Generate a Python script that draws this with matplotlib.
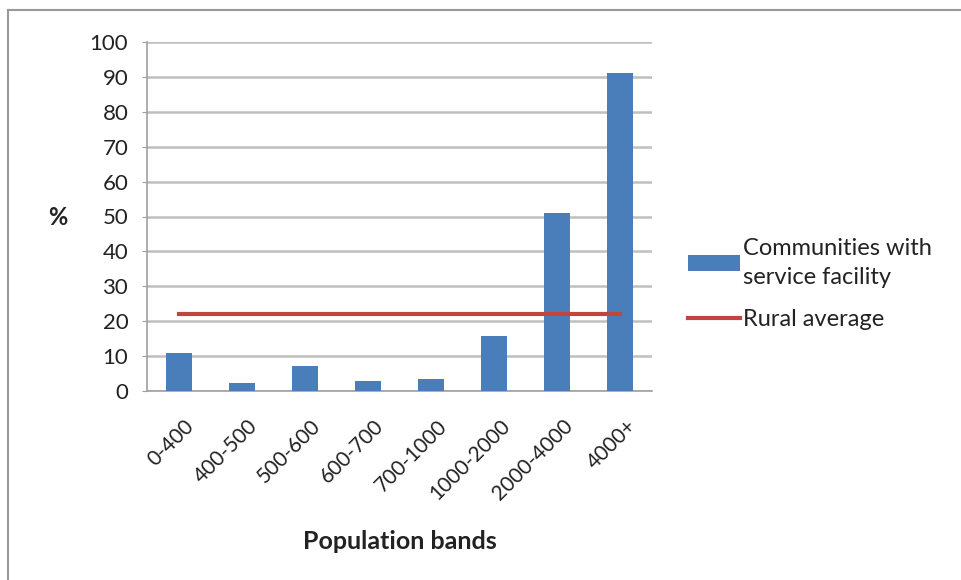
import matplotlib
matplotlib.use("Agg")
from matplotlib import pyplot as plt
from matplotlib.lines import Line2D
from matplotlib.transforms import ScaledTranslation

# データ
bands = ["0-400", "400-500", "500-600", "600-700", "700-1000",
         "1000-2000", "2000-4000", "4000+"]
service_pct = [10.9, 2.2, 7.2, 3.0, 3.4, 15.9, 51, 91.2]
rural_avg = [22] * len(bands)
yticks = list(range(0, 101, 10))

plt.rcParams['font.family'] = ['Lato', 'DejaVu Sans']

fig = plt.figure(figsize=(9.61, 5.80), dpi=100)
ax = fig.add_axes([147 / 961, 1 - 391 / 580, 505 / 961, 349 / 580])

x = list(range(len(bands)))
bars = ax.bar(x, service_pct, width=0.41, color="#4a7ebb", zorder=3,
              label="Communities with\nservice facility")
line, = ax.plot(x, rural_avg, color="#c0453f", lw=3, zorder=4,
                label="Rural average")

ax.set_xlim(-0.5, len(bands) - 0.5)
ax.set_ylim(0, 100)
ax.set_yticks(yticks)
ax.set_xticks(x)
ax.set_xticklabels(bands, rotation=45, ha="right", va="top",
                   rotation_mode="anchor")
ax.yaxis.grid(True, color="#bfbfbf", lw=1.8, zorder=0)
ax.set_axisbelow(True)

for s in ["top", "right"]:
    ax.spines[s].set_visible(False)
for s in ["left", "bottom"]:
    ax.spines[s].set_color("#a0a0a0")
    ax.spines[s].set_linewidth(1.2)
ax.tick_params(axis="y", length=3.5, color="#a0a0a0", labelsize=16, pad=10,
               labelcolor="#222222")
ax.tick_params(axis="x", length=0, labelsize=15, pad=18, labelcolor="#222222")
# ラベルを少し右へ
for lab in ax.get_xticklabels():
    lab.set_transform(lab.get_transform() + ScaledTranslation(4 / 72, 0, fig.dpi_scale_trans))

ax.set_ylabel("%", rotation=0, fontsize=17, fontweight="bold",
              ha="center", va="center", color="#222222")
ax.yaxis.set_label_coords(-0.176, 0.496)
ax.set_xlabel("Population bands", fontsize=18, fontweight="bold",
              va="top", color="#222222")
ax.xaxis.set_label_coords(0.501, -0.398)

leg = ax.legend([bars, line], ["Communities with\nservice facility", "Rural average"],
                loc="center left", bbox_to_anchor=(679 / 961, 1 - 284 / 580),
                bbox_transform=fig.transFigure, borderaxespad=0, frameon=False,
                fontsize=17, handlelength=2.2, handletextpad=0.1, labelspacing=0.9,
                labelcolor="#222222")
for t in leg.get_texts():
    t.set_linespacing(1.45)

# 外枠
fig.add_artist(Line2D([8 / 961, 8 / 961], [0, 1 - 10 / 580], color="#999999", lw=1.5))
fig.add_artist(Line2D([8 / 961, 1], [1 - 10 / 580, 1 - 10 / 580], color="#999999", lw=1.5))

fig.savefig("out.png", dpi=100)
